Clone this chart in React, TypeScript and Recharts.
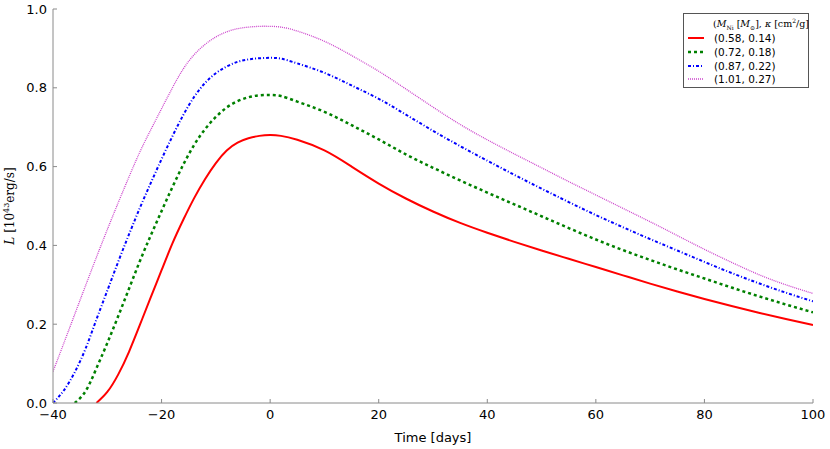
import React from "react";
import { LineChart, Line, XAxis, YAxis } from "recharts";

// time since peak [days]
const days = [
  -40, -38, -36, -34, -32, -30, -28, -26, -24, -22, -20, -18, -16, -14, -12, -10, -8, -6, -4, -2, 0,
  2, 5, 10, 15, 20, 25, 30, 35, 40, 45, 50, 55, 60, 65, 70, 75, 80, 85, 90, 95, 100,
];

// luminosity [1e43 erg/s], null = before explosion
const lumA = [
  null, null, null, null, 0, 0.028, 0.072, 0.13, 0.198, 0.268, 0.337, 0.405, 0.465, 0.52, 0.568, 0.609, 0.641, 0.661, 0.672, 0.678, 0.68,
  0.678, 0.668, 0.641, 0.6, 0.557, 0.519, 0.486, 0.457, 0.432, 0.409, 0.387, 0.366, 0.345, 0.324, 0.303, 0.283, 0.264, 0.246, 0.229, 0.213, 0.198,
];
const lumB = [
  null, null, 0, 0.03, 0.088, 0.152, 0.22, 0.29, 0.36, 0.425, 0.487, 0.548, 0.605, 0.655, 0.695, 0.726, 0.75, 0.766, 0.776, 0.781, 0.782,
  0.779, 0.765, 0.739, 0.705, 0.669, 0.631, 0.597, 0.565, 0.534, 0.504, 0.474, 0.444, 0.415, 0.388, 0.363, 0.339, 0.316, 0.293, 0.271, 0.25, 0.23,
];
const lumC = [
  0, 0.032, 0.078, 0.138, 0.212, 0.285, 0.358, 0.428, 0.495, 0.558, 0.619, 0.677, 0.731, 0.777, 0.812, 0.837, 0.854, 0.866, 0.872, 0.875, 0.876,
  0.874, 0.862, 0.838, 0.806, 0.772, 0.732, 0.691, 0.652, 0.615, 0.579, 0.544, 0.51, 0.477, 0.446, 0.416, 0.387, 0.358, 0.33, 0.304, 0.28, 0.258,
];
const lumD = [
  0.08, 0.152, 0.225, 0.298, 0.37, 0.44, 0.508, 0.574, 0.637, 0.693, 0.747, 0.8, 0.848, 0.884, 0.91, 0.929, 0.942, 0.95, 0.954, 0.956, 0.956,
  0.954, 0.944, 0.918, 0.882, 0.842, 0.797, 0.751, 0.707, 0.668, 0.632, 0.597, 0.562, 0.528, 0.494, 0.46, 0.425, 0.39, 0.357, 0.326, 0.3, 0.278,
];

const labels = ["(0.58, 0.14)", "(0.72, 0.18)", "(0.87, 0.22)", "(1.01, 0.27)"];
const xTicks = [-40, -20, 0, 20, 40, 60, 80, 100];
const yTicks = [0, 0.2, 0.4, 0.6, 0.8, 1.0];

const data = days.map((t, i) => ({ t, a: lumA[i], b: lumB[i], c: lumC[i], d: lumD[i] }));

const series = [
  { key: "a", color: "#ff0000", width: 2, dash: undefined },
  { key: "b", color: "#008000", width: 2.5, dash: "3 3" },
  { key: "c", color: "#0000ff", width: 2, dash: "3 2 1 2" },
  { key: "d", color: "#cc44cc", width: 1.3, dash: "1 1" },
];

const frame = "#8a8a8a";
const tickFont = { fontSize: 13, fill: "#000", fontFamily: "DejaVu Sans" };
const fmtX = (v: number) => (v < 0 ? "\u2212" + Math.abs(v) : String(v));
const noTick = () => <g />;

function YLabel({ viewBox }: any) {
  const cx = 14;
  const cy = viewBox ? viewBox.y + viewBox.height / 2 : 205;
  return (
    <text
      x={cx}
      y={cy}
      transform={`rotate(-90 ${cx} ${cy})`}
      textAnchor="middle"
      fontFamily="DejaVu Serif"
      fontSize={12}
      fill="#000"
    >
      <tspan fontStyle="italic">L</tspan>
      <tspan> [10</tspan>
      <tspan fontSize={8} dy={-5}>43</tspan>
      <tspan dy={5}>erg/s]</tspan>
    </text>
  );
}

function LegendBox() {
  return (
    <div
      style={{
        position: "absolute",
        left: 683,
        top: 13,
        width: 124,
        height: 73,
        border: "1px solid #555",
        background: "#fff",
        fontFamily: "DejaVu Sans",
        fontSize: 10.5,
      }}
    >
      <div
        style={{
          position: "absolute",
          left: 29,
          top: 3,
          fontFamily: "DejaVu Serif",
          fontSize: 9.5,
          whiteSpace: "nowrap",
        }}
      >
        (<i>M</i>
        <sub style={{ fontSize: 6 }}>Ni</sub> [<i>M</i>
        <sub style={{ fontSize: 6 }}>⊙</sub>], <i>κ</i> [cm
        <sup style={{ fontSize: 6 }}>2</sup>/g]
      </div>
      {series.map((s, i) => (
        <div
          key={s.key}
          style={{ position: "absolute", left: 4, top: 17 + i * 13.8, height: 14, display: "flex", alignItems: "center" }}
        >
          <svg width={17} height={6}>
            <line x1={0} y1={3} x2={16} y2={3} stroke={s.color} strokeWidth={s.width} strokeDasharray={s.dash} />
          </svg>
          <span style={{ marginLeft: 9, whiteSpace: "nowrap" }}>{labels[i]}</span>
        </div>
      ))}
    </div>
  );
}

export default function App() {
  return (
    <div style={{ position: "absolute", left: 0, top: 0, width: 830, height: 449, background: "#fff" }}>
      <LineChart width={830} height={449} data={data} margin={{ top: 9, right: 17, bottom: 15, left: 0 }}>
        <XAxis
          xAxisId="bottom"
          dataKey="t"
          type="number"
          domain={[-40, 100]}
          ticks={xTicks}
          tickFormatter={fmtX}
          tick={tickFont}
          stroke={frame}
          tickSize={-4}
          tickMargin={11}
          height={31}
          label={{ value: "Time [days]", position: "insideBottom", offset: -8, fill: "#000", fontSize: 13, fontFamily: "DejaVu Sans" }}
          allowDataOverflow
        />
        <XAxis
          xAxisId="top"
          orientation="top"
          dataKey="t"
          type="number"
          domain={[-40, 100]}
          ticks={xTicks}
          tick={noTick}
          stroke={frame}
          tickSize={-4}
          height={0}
          allowDataOverflow
        />
        <YAxis
          yAxisId="left"
          type="number"
          domain={[0, 1]}
          ticks={yTicks}
          tickFormatter={(v: number) => v.toFixed(1)}
          tick={tickFont}
          stroke={frame}
          tickSize={-4}
          tickMargin={10}
          width={53}
          label={<YLabel />}
          allowDataOverflow
        />
        <YAxis
          yAxisId="right"
          orientation="right"
          type="number"
          domain={[0, 1]}
          ticks={yTicks}
          tick={noTick}
          stroke={frame}
          tickSize={-4}
          width={0}
          allowDataOverflow
        />
        {series.map((s) => (
          <Line
            key={s.key}
            xAxisId="bottom"
            yAxisId="left"
            type="natural"
            dataKey={s.key}
            stroke={s.color}
            strokeWidth={s.width}
            strokeDasharray={s.dash}
            dot={false}
            activeDot={false}
            isAnimationActive={false}
          />
        ))}
      </LineChart>
      <LegendBox />
    </div>
  );
}
